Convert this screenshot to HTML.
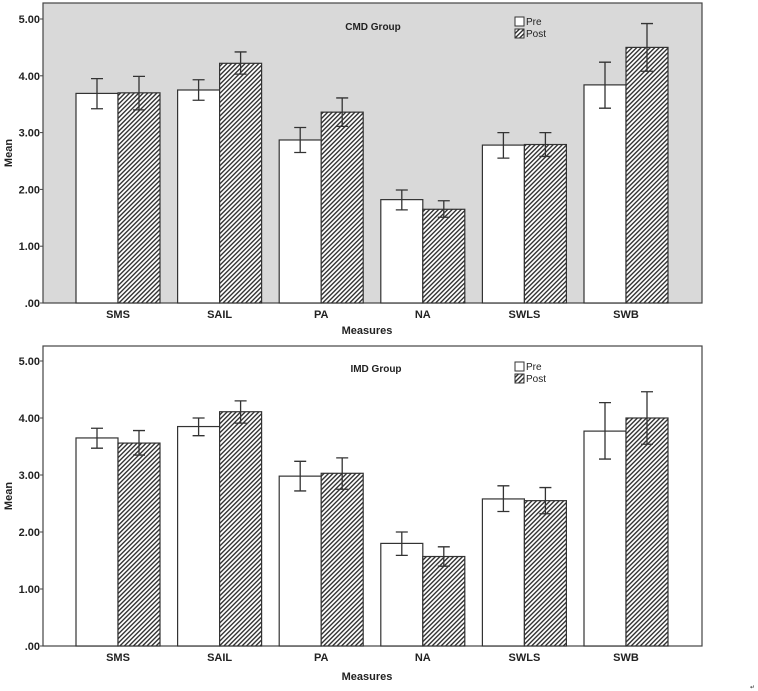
<!DOCTYPE html>
<html><head><meta charset="utf-8"><style>
html,body{margin:0;padding:0;background:#fff;width:758px;height:691px;overflow:hidden}
svg text{font-family:"Liberation Sans",Arial,sans-serif;font-weight:bold;fill:#222}
</style></head><body>
<svg id="chart" width="758" height="691" viewBox="0 0 758 691" xmlns="http://www.w3.org/2000/svg">
<defs>
<pattern id="hatch" patternUnits="userSpaceOnUse" width="3.2" height="3.2" patternTransform="rotate(45)">
<rect width="3.2" height="3.2" fill="#fff"/><rect x="0" y="0" width="1.4" height="3.2" fill="#333"/>
</pattern>
</defs>
<text x="750" y="689" font-size="6" style="font-weight:normal" fill="#888">↵</text>
</svg>
<script>
const categories = ["SMS","SAIL","PA","NA","SWLS","SWB"];
const yTicks = [0,1,2,3,4,5];
const yTickLabels = [".00","1.00","2.00","3.00","4.00","5.00"];
const cmdPre = [3.69,3.75,2.87,1.82,2.78,3.84];
const cmdPreHi = [3.95,3.93,3.09,1.99,3.00,4.24];
const cmdPreLo = [3.42,3.57,2.65,1.64,2.55,3.43];
const cmdPost = [3.70,4.22,3.36,1.65,2.79,4.50];
const cmdPostHi = [3.99,4.42,3.61,1.80,3.00,4.92];
const cmdPostLo = [3.40,4.03,3.11,1.51,2.58,4.08];
const imdPre = [3.65,3.85,2.98,1.80,2.58,3.77];
const imdPreHi = [3.82,4.00,3.24,2.00,2.81,4.27];
const imdPreLo = [3.47,3.69,2.72,1.59,2.36,3.28];
const imdPost = [3.56,4.11,3.03,1.57,2.55,4.00];
const imdPostHi = [3.78,4.30,3.30,1.74,2.78,4.46];
const imdPostLo = [3.35,3.91,2.75,1.40,2.32,3.54];

const NS="http://www.w3.org/2000/svg";
const svg=document.getElementById('chart');
function mk(tag,attrs,parent){const e=document.createElementNS(NS,tag);for(const k in attrs)e.setAttribute(k,attrs[k]);(parent||svg).appendChild(e);return e;}

function drawPanel(cfg){
  const g=mk('g',{});
  
  
  const L=43,R=702,T=cfg.top,B=cfg.bottom,y5=cfg.y5;
  const y=v=>B-(B-y5)*v/5;
  const step=101.6, x0=118;
  const xc=i=>x0+i*step;
  const bw=42;
  const bg=mk('rect',{x:L,y:T,width:R-L,height:B-T,fill:cfg.bg,stroke:'#444','stroke-width':1.2},g);
  
  
  yTicks.forEach((t,i)=>{
    mk('line',{x1:L-3,x2:L,y1:y(t),y2:y(t),stroke:'#444'},g);
    const tx=mk('text',{x:L-3,y:y(t)+4,'text-anchor':'end','font-size':11},g);
    tx.textContent=yTickLabels[i];
    
    
  });
  function bar(i,v,hi,lo,post){
    const x=post?xc(i):xc(i)-bw;
    const r=mk('rect',{x:x,y:y(v),width:bw,height:B-y(v),fill:post?'url(#hatch)':'#fff',stroke:'#333','stroke-width':1.2},g);
    
    
    const cx=x+bw/2;
    const e=mk('path',{d:`M${cx-6},${y(hi)}H${cx+6}M${cx},${y(hi)}V${y(lo)}M${cx-6},${y(lo)}H${cx+6}`,stroke:'#333','stroke-width':1.3,fill:'none'},g);
    
    
  }
  categories.forEach((c,i)=>{
    bar(i,cfg.pre[i],cfg.preHi[i],cfg.preLo[i],false);
    bar(i,cfg.post[i],cfg.postHi[i],cfg.postLo[i],true);
    const tx=mk('text',{x:xc(i),y:B+15,'text-anchor':'middle','font-size':11},g);
    tx.textContent=c;
    
    
  });
  const t=mk('text',{x:cfg.titleX,y:T+cfg.titleDy,'text-anchor':'middle','font-size':10},g);
  t.textContent=cfg.title;
  
  
  const ly=T+cfg.legDy;
  const lg=mk('g',{},g);
  
  
  mk('rect',{x:515,y:ly,width:9,height:9,fill:'#fff',stroke:'#333'},lg);
  const l1=mk('text',{x:526,y:ly+8,'font-size':10,style:'font-weight:normal'},lg);l1.textContent='Pre';
  
  
  mk('rect',{x:515,y:ly+12,width:9,height:9,fill:'url(#hatch)',stroke:'#333'},lg);
  const l2=mk('text',{x:526,y:ly+20,'font-size':10,style:'font-weight:normal'},lg);l2.textContent='Post';
  
  
  const xt=mk('text',{x:367,y:B+cfg.xtDy,'text-anchor':'middle','font-size':11},g);
  xt.textContent='Measures';
  
  
  const ym=(T+B)/2;
  const yt=mk('text',{x:12,y:ym,'text-anchor':'middle','font-size':11,transform:`rotate(-90 12 ${ym})`},g);
  yt.textContent='Mean';
  
  
}
drawPanel({id:'cmd',top:3,bottom:303,y5:19,bg:'#d9d9d9',title:'CMD Group',titleX:373,titleDy:27,legDy:14,xtDy:31,
  pre:cmdPre,preHi:cmdPreHi,preLo:cmdPreLo,post:cmdPost,postHi:cmdPostHi,postLo:cmdPostLo});
drawPanel({id:'imd',top:346,bottom:646,y5:361,bg:'#fff',title:'IMD Group',titleX:376,titleDy:26,legDy:16,xtDy:34,
  pre:imdPre,preHi:imdPreHi,preLo:imdPreLo,post:imdPost,postHi:imdPostHi,postLo:imdPostLo});
</script>
</body></html>
